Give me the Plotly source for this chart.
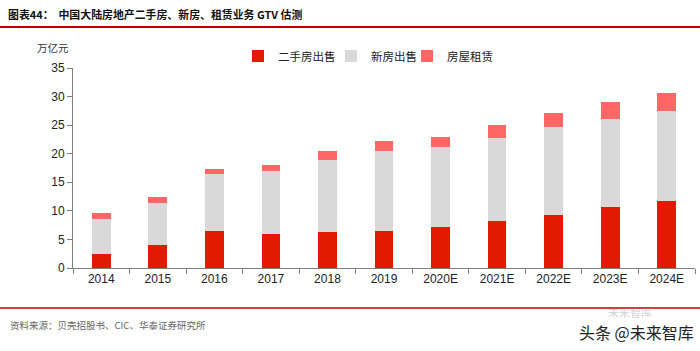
import plotly.graph_objects as go

years = ["2014", "2015", "2016", "2017", "2018", "2019", "2020E", "2021E", "2022E", "2023E", "2024E"]
second_hand = [2.5, 4.1, 6.5, 5.9, 6.35, 6.5, 7.2, 8.3, 9.3, 10.7, 11.8]
new_home = [6.1, 7.3, 9.9, 11.0, 12.55, 14.0, 14.0, 14.5, 15.3, 15.4, 15.7]
rental = [1.0, 1.0, 1.0, 1.2, 1.6, 1.7, 1.8, 2.2, 2.5, 2.9, 3.1]
y_ticks = [0, 5, 10, 15, 20, 25, 30, 35]

W, H = 700, 351
L, R, T, B = 73, 5, 68, 83
PW, PH = W - L - R, H - T - B

def px(p):
    return (p - L) / PW

def py(p):
    return (H - B - p) / PH

fig = go.Figure()
fig.add_trace(go.Bar(x=years, y=second_hand, name="二手房出售", legend="legend",
                     marker=dict(color="#E41A00", line=dict(width=0))))
fig.add_trace(go.Bar(x=years, y=new_home, name="新房出售", legend="legend2",
                     marker=dict(color="#D9D9D9", line=dict(width=0))))
fig.add_trace(go.Bar(x=years, y=rental, name="房屋租赁", legend="legend3",
                     marker=dict(color="#FF6666", line=dict(width=0))))

font_cjk = "Noto Sans CJK SC, Liberation Sans, sans-serif"

def leg(xpix):
    return dict(orientation="h", x=px(xpix), y=py(56), xanchor="left", yanchor="middle",
                font=dict(family=font_cjk, size=11.5, color="#222222"),
                itemwidth=30, bgcolor="rgba(0,0,0,0)")

fig.update_layout(
    width=W, height=H,
    margin=dict(l=L, r=R, t=T, b=B, pad=0),
    barmode="stack",
    bargap=0.67,
    plot_bgcolor="white",
    paper_bgcolor="white",
    font=dict(family="Liberation Sans, Arial, sans-serif", size=12, color="#222222"),
    showlegend=True,
    legend=leg(238),
    legend2=leg(331),
    legend3=leg(407),
    xaxis=dict(type="category", range=[-0.5, 10.5], showline=True, linecolor="#7f7f7f", linewidth=1,
               ticks="outside", tickson="boundaries", ticklen=5, tickcolor="#7f7f7f",
               showgrid=False, tickfont=dict(size=12, color="#222222"), fixedrange=True),
    yaxis=dict(range=[0, 35], tickvals=y_ticks, showline=True, linecolor="#7f7f7f", linewidth=1,
               ticks="outside", ticklen=5, tickcolor="#7f7f7f", showgrid=False, zeroline=False,
               tickfont=dict(size=12, color="#222222"), fixedrange=True),
    shapes=[
        dict(type="line", xref="paper", yref="paper", x0=px(0), x1=px(700), y0=py(27), y1=py(27),
             line=dict(color="#C00000", width=2)),
        dict(type="line", xref="paper", yref="paper", x0=px(0), x1=px(700), y0=py(308), y1=py(308),
             line=dict(color="#C00000", width=1.5)),
    ],
    annotations=[
        dict(text="<b>图表44：  中国大陆房地产二手房、新房、租赁业务 GTV 估测</b>", xref="paper", yref="paper",
             x=px(6), y=py(14), xanchor="left", yanchor="middle", showarrow=False,
             font=dict(family=font_cjk, size=10.9, color="#111111")),
        dict(text="万亿元", xref="paper", yref="paper", x=px(35), y=py(47), xanchor="left", yanchor="middle",
             showarrow=False, font=dict(family=font_cjk, size=10.5, color="#333333")),
        dict(text="资料来源：贝壳招股书、CIC、华泰证券研究所", xref="paper", yref="paper", x=px(8), y=py(325),
             xanchor="left", yanchor="middle", showarrow=False,
             font=dict(family=font_cjk, size=9.5, color="#666666")),
        dict(text="未来智库", xref="paper", yref="paper", x=px(630), y=py(312), xanchor="center", yanchor="middle",
             showarrow=False, font=dict(family=font_cjk, size=11, color="rgba(120,120,120,0.35)")),
        dict(text="头条 @未来智库", xref="paper", yref="paper", x=px(696), y=py(332), xanchor="right", yanchor="middle",
             showarrow=False, font=dict(family=font_cjk, size=16, color="#222222")),
    ],
)

fig.write_html("out.html")
